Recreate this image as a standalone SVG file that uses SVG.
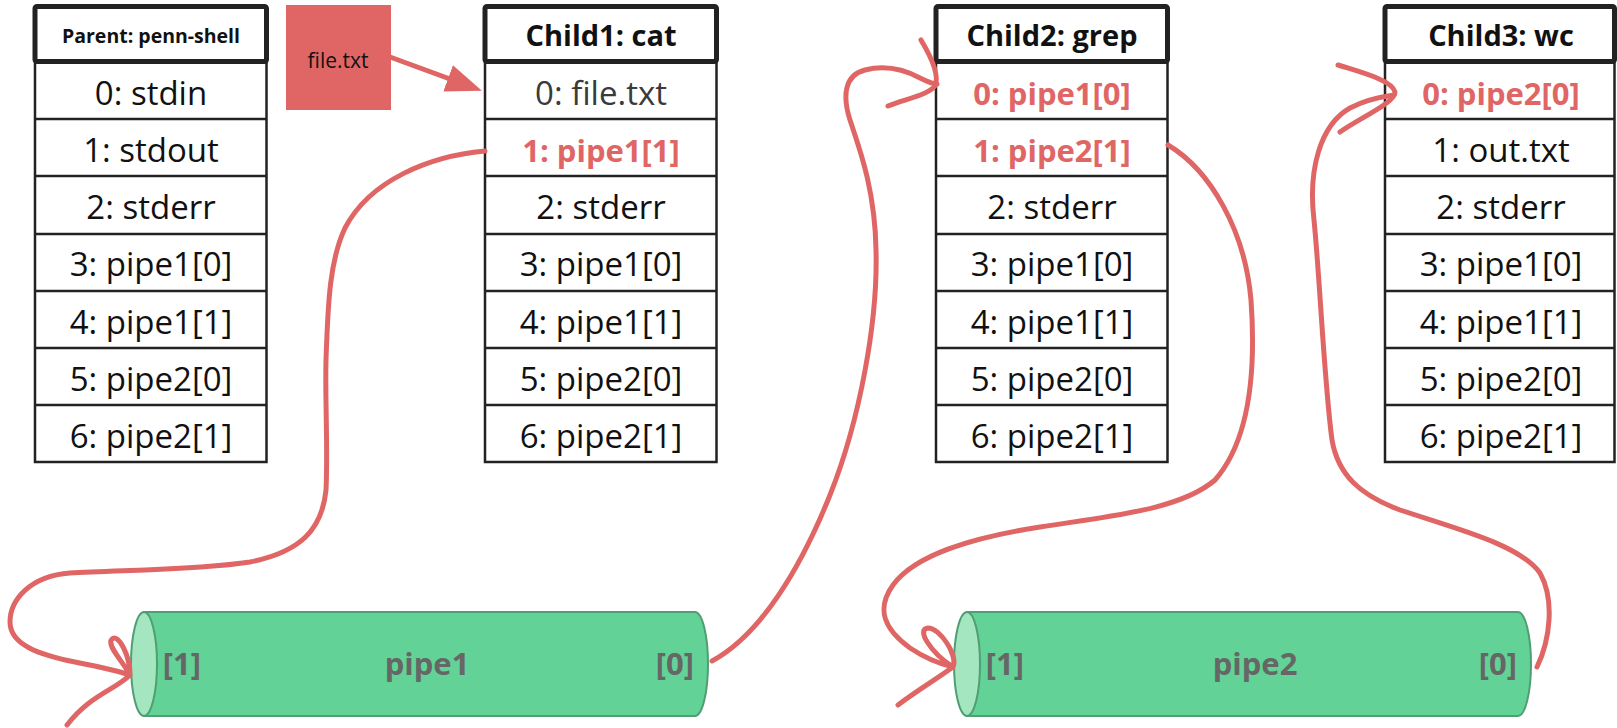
<svg xmlns="http://www.w3.org/2000/svg" width="1617" height="728" viewBox="0 0 1617 728">
<defs>
<style>
.hdr{fill:#fff;stroke:#222;stroke-width:5}
.body{fill:#fff;stroke:#222;stroke-width:2.5}
.sep{stroke:#222;stroke-width:2.5}
text{font-family:"Open Sans","Noto Sans","Liberation Sans",sans-serif;text-anchor:middle}
.ht{font-size:29px;font-weight:700;fill:#111}
.rt{font-size:33px;fill:#111}
.dim{fill:#3a3a3a}
.hot{font-size:31px;font-weight:700;fill:#e06666}
.pb{fill:#62d296;stroke:#4f9f72;stroke-width:2}
.pe{fill:#a3e6c0;stroke:#4f9f72;stroke-width:2}
.pt{font-size:31px;font-weight:700;fill:#666}
.wire{fill:none;stroke:#e06666;stroke-width:5;stroke-linecap:round;stroke-linejoin:round}
</style>
<marker id="arrow" viewBox="0 0 36 28" refX="2" refY="14" markerWidth="36" markerHeight="28" markerUnits="userSpaceOnUse" orient="auto">
<path d="M0,0 L36,14 L0,28 z" fill="#e06666"/>
</marker>
</defs>
<rect width="1617" height="728" fill="#fff"/>

<g id="parent">
<rect class="body" x="35" y="62" width="231.5" height="400"/>
<line class="sep" x1="35" y1="119" x2="266.5" y2="119"/>
<line class="sep" x1="35" y1="176" x2="266.5" y2="176"/>
<line class="sep" x1="35" y1="234" x2="266.5" y2="234"/>
<line class="sep" x1="35" y1="291" x2="266.5" y2="291"/>
<line class="sep" x1="35" y1="348" x2="266.5" y2="348"/>
<line class="sep" x1="35" y1="405" x2="266.5" y2="405"/>
<rect class="hdr" x="35" y="6.5" width="231.5" height="55" rx="2"/>
<text class="ht" x="151" y="43" style="font-size:19.5px">Parent: penn-shell</text>
<text class="rt" x="151" y="105">0: stdin</text>
<text class="rt" x="151" y="162">1: stdout</text>
<text class="rt" x="151" y="219">2: stderr</text>
<text class="rt" x="151" y="276">3: pipe1[0]</text>
<text class="rt" x="151" y="334">4: pipe1[1]</text>
<text class="rt" x="151" y="391">5: pipe2[0]</text>
<text class="rt" x="151" y="448">6: pipe2[1]</text>
</g>

<g id="filetxt">
<rect x="286" y="5" width="105" height="105" fill="#e06666"/>
<text x="338" y="68" style="font-size:21px;fill:#111">file.txt</text>
</g>

<g id="child1">
<rect class="body" x="485" y="62" width="231.5" height="400"/>
<line class="sep" x1="485" y1="119" x2="716.5" y2="119"/>
<line class="sep" x1="485" y1="176" x2="716.5" y2="176"/>
<line class="sep" x1="485" y1="234" x2="716.5" y2="234"/>
<line class="sep" x1="485" y1="291" x2="716.5" y2="291"/>
<line class="sep" x1="485" y1="348" x2="716.5" y2="348"/>
<line class="sep" x1="485" y1="405" x2="716.5" y2="405"/>
<rect class="hdr" x="485" y="6.5" width="231.5" height="55" rx="2"/>
<text class="ht" x="601" y="46">Child1: cat</text>
<text class="rt dim" x="601" y="105">0: file.txt</text>
<text class="hot" x="601" y="162">1: pipe1[1]</text>
<text class="rt" x="601" y="219">2: stderr</text>
<text class="rt" x="601" y="276">3: pipe1[0]</text>
<text class="rt" x="601" y="334">4: pipe1[1]</text>
<text class="rt" x="601" y="391">5: pipe2[0]</text>
<text class="rt" x="601" y="448">6: pipe2[1]</text>
</g>

<g id="child2">
<rect class="body" x="936" y="62" width="231.5" height="400"/>
<line class="sep" x1="936" y1="119" x2="1167.5" y2="119"/>
<line class="sep" x1="936" y1="176" x2="1167.5" y2="176"/>
<line class="sep" x1="936" y1="234" x2="1167.5" y2="234"/>
<line class="sep" x1="936" y1="291" x2="1167.5" y2="291"/>
<line class="sep" x1="936" y1="348" x2="1167.5" y2="348"/>
<line class="sep" x1="936" y1="405" x2="1167.5" y2="405"/>
<rect class="hdr" x="936" y="6.5" width="231.5" height="55" rx="2"/>
<text class="ht" x="1052" y="46">Child2: grep</text>
<text class="hot" x="1052" y="105">0: pipe1[0]</text>
<text class="hot" x="1052" y="162">1: pipe2[1]</text>
<text class="rt" x="1052" y="219">2: stderr</text>
<text class="rt" x="1052" y="276">3: pipe1[0]</text>
<text class="rt" x="1052" y="334">4: pipe1[1]</text>
<text class="rt" x="1052" y="391">5: pipe2[0]</text>
<text class="rt" x="1052" y="448">6: pipe2[1]</text>
</g>

<g id="child3">
<rect class="body" x="1385" y="62" width="229.5" height="400"/>
<line class="sep" x1="1385" y1="119" x2="1614.5" y2="119"/>
<line class="sep" x1="1385" y1="176" x2="1614.5" y2="176"/>
<line class="sep" x1="1385" y1="234" x2="1614.5" y2="234"/>
<line class="sep" x1="1385" y1="291" x2="1614.5" y2="291"/>
<line class="sep" x1="1385" y1="348" x2="1614.5" y2="348"/>
<line class="sep" x1="1385" y1="405" x2="1614.5" y2="405"/>
<rect class="hdr" x="1385" y="6.5" width="229.5" height="55" rx="2"/>
<text class="ht" x="1501" y="46">Child3: wc</text>
<text class="hot" x="1501" y="105">0: pipe2[0]</text>
<text class="rt" x="1501" y="162">1: out.txt</text>
<text class="rt" x="1501" y="219">2: stderr</text>
<text class="rt" x="1501" y="276">3: pipe1[0]</text>
<text class="rt" x="1501" y="334">4: pipe1[1]</text>
<text class="rt" x="1501" y="391">5: pipe2[0]</text>
<text class="rt" x="1501" y="448">6: pipe2[1]</text>
</g>

<g id="pipe1">
<path class="pb" d="M144 612 L695 612 A13 52 0 0 1 695 716 L144 716 Z"/>
<ellipse class="pe" cx="144" cy="664" rx="13" ry="52"/>
<text class="pt" x="182" y="675">[1]</text>
<text class="pt" x="427" y="675">pipe1</text>
<text class="pt" x="675" y="675">[0]</text>
</g>

<g id="pipe2">
<path class="pb" d="M967 612 L1518 612 A13 52 0 0 1 1518 716 L967 716 Z"/>
<ellipse class="pe" cx="967" cy="664" rx="13" ry="52"/>
<text class="pt" x="1005" y="675">[1]</text>
<text class="pt" x="1255" y="675">pipe2</text>
<text class="pt" x="1498" y="675">[0]</text>
</g>

<g id="connectors">
<line class="wire" x1="390" y1="57" x2="450" y2="79" stroke-linecap="butt" marker-end="url(#arrow)"/>
<path class="wire" d="M485 151 C430 156, 370 180, 345 228 C330 260, 328 300, 326 360 C325 400, 328 450, 326 490 C322 530, 300 552, 250 562 C200 570, 120 570, 70 573 C30 576, 10 600, 10 622 C10 645, 40 655, 75 662 C100 667, 118 671, 130 675 C122 660, 106 645, 112 639 C118 633, 130 655, 130 675 C115 690, 90 695, 67 725"/>
<path class="wire" d="M712 661 C760 635, 800 570, 830 495 C860 420, 878 320, 876 250 C875 190, 860 150, 850 120 C842 95, 845 75, 865 70 C885 65, 905 70, 920 78 C928 82, 933 84, 937 84"/>
<path class="wire" d="M921 40 C930 55, 940 75, 935 86 C928 95, 905 99, 888 106"/>
<path class="wire" d="M1168 145 C1210 170, 1245 230, 1251 300 C1256 370, 1250 440, 1215 480 C1180 510, 1110 516, 1040 527 C970 538, 915 555, 893 585 C875 610, 885 630, 910 648 C925 658, 940 664, 953 667 C958 655, 940 628, 928 628 C916 629, 930 652, 953 667 C935 680, 915 692, 898 705"/>
<path class="wire" d="M1537 667 C1550 640, 1555 600, 1540 573 C1520 545, 1460 530, 1400 510 C1360 495, 1338 475, 1332 440 C1324 380, 1320 280, 1314 220 C1308 170, 1320 125, 1350 108 C1365 100, 1380 97, 1394 95"/>
<path class="wire" d="M1338 65 C1360 72, 1392 80, 1395 92 C1396 102, 1360 118, 1340 132"/>
</g>
</svg>
